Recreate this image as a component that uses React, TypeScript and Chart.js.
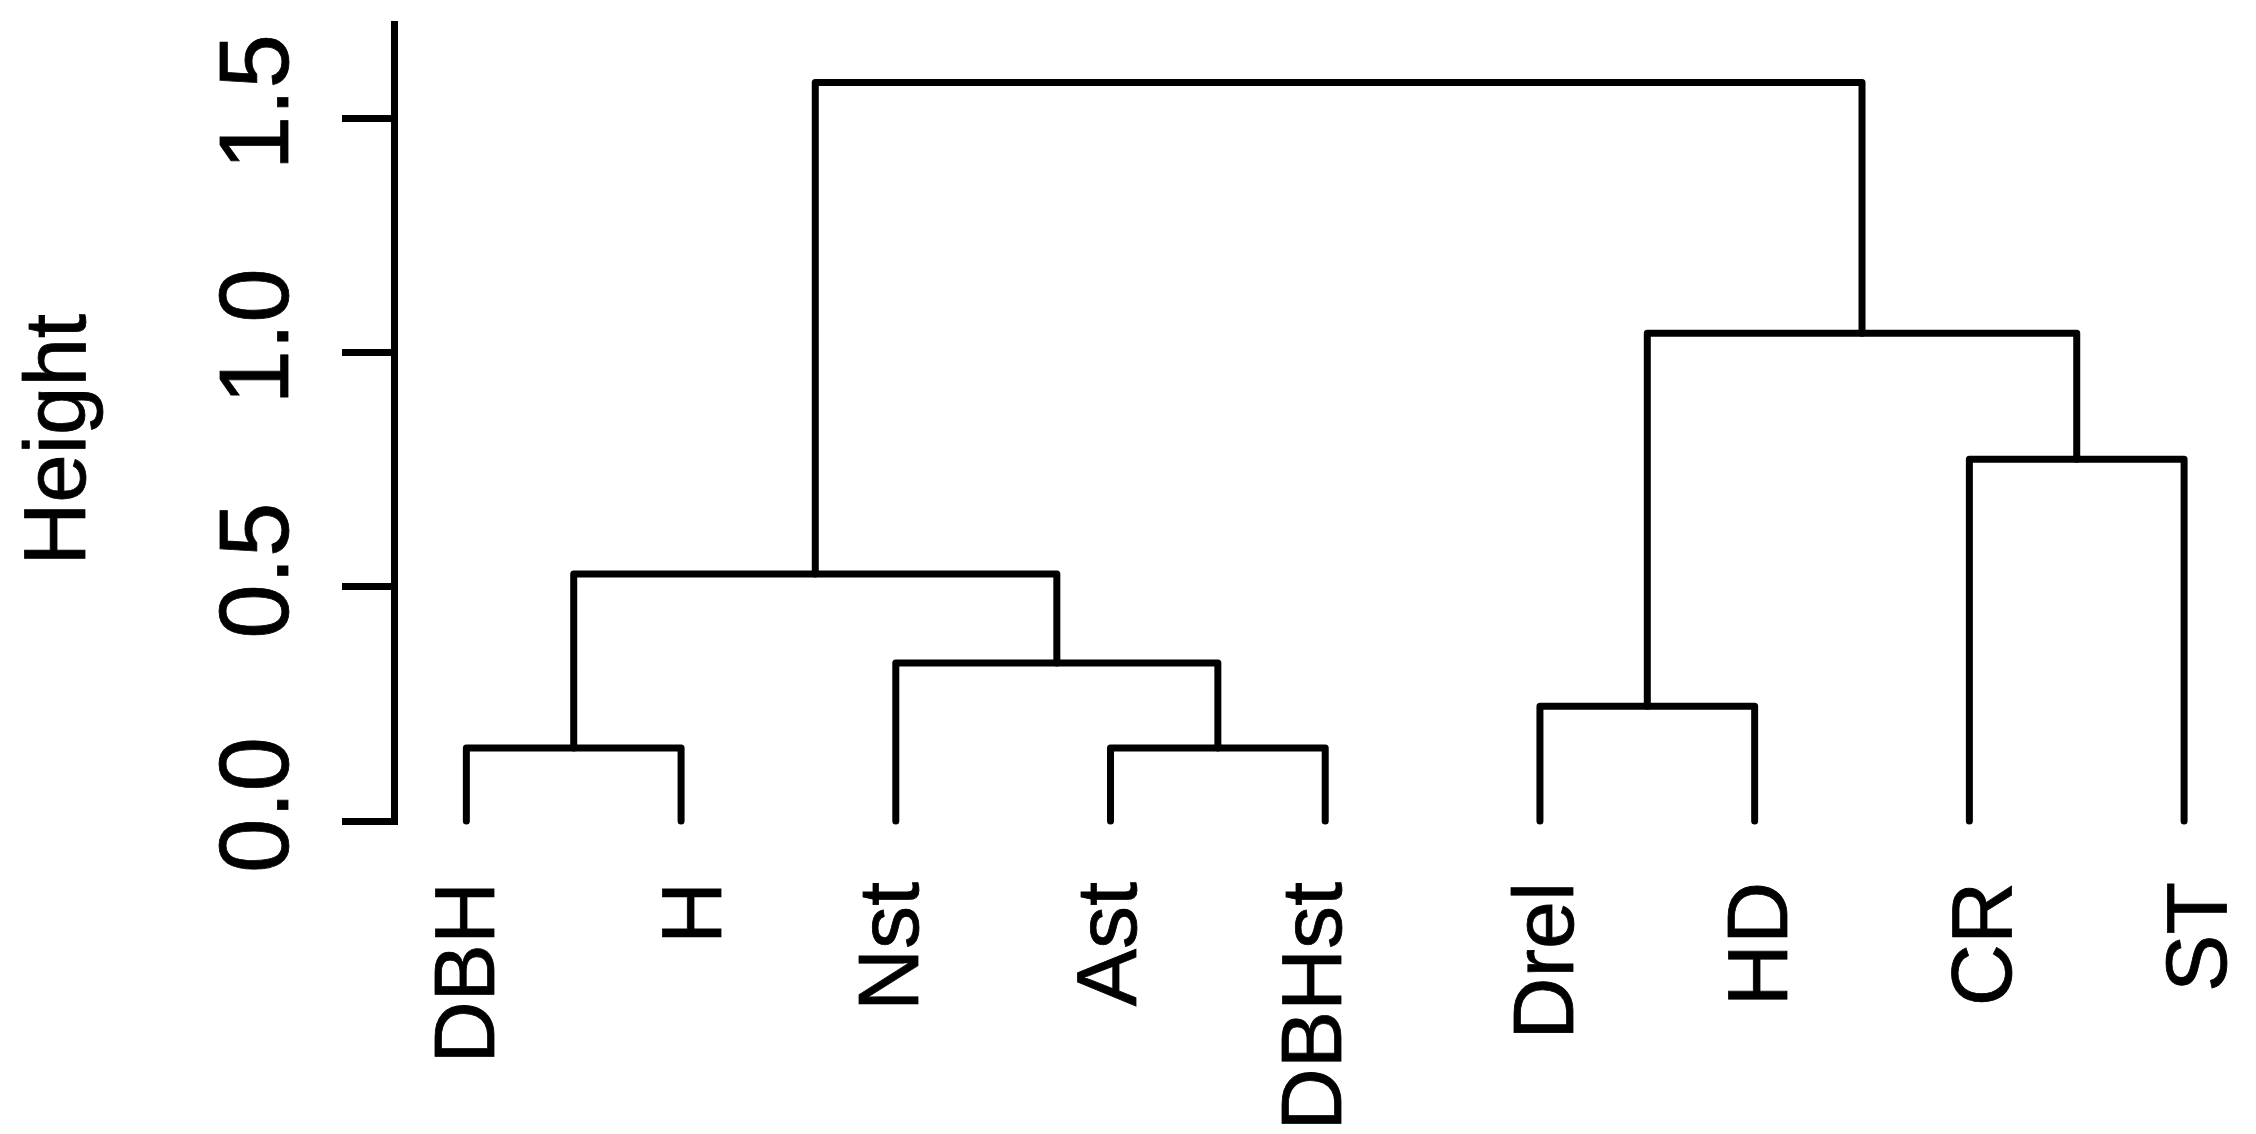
import { useEffect, useRef } from 'react';
import { Chart, registerables } from 'chart.js';

Chart.register(...registerables);

// ---- data ----
const leafLabels = ['DBH', 'H', 'Nst', 'Ast', 'DBHst', 'Drel', 'HD', 'CR', 'ST'];
// hclust-style merge steps: negative = leaf (1-based position in leafLabels), positive = earlier step
const mergeLeft = [-1, -4, -3, 1, -6, -8, 5, 4];
const mergeRight = [-2, -5, 2, 3, -7, -9, 6, 7];
const mergeHeights = [0.156, 0.156, 0.337, 0.527, 0.245, 0.772, 1.041, 1.576];
const yTickValues = [0, 0.5, 1.0, 1.5];
const yTickLabels = ['0.0', '0.5', '1.0', '1.5'];
const yAxisTitle = 'Height';

// ---- style / layout constants ----
const FONT = '"Liberation Sans", Arial, Helvetica, sans-serif';
const LINE_W = 7;
// small horizontal nudges (px) of the leaf labels, as placed in the original figure
const leafLabelNudge = [-3, 9, -9, -6, -15, 2, 1, 11, 11];

function buildSegments() {
  const nodeX: number[] = [];
  const nodeH: number[] = [];
  const pos = (ref: number) =>
    ref < 0 ? { x: -ref, h: 0 } : { x: nodeX[ref - 1], h: nodeH[ref - 1] };
  const segs: { x: number; y: number }[][] = [];
  for (let i = 0; i < mergeHeights.length; i++) {
    const a = pos(mergeLeft[i]);
    const b = pos(mergeRight[i]);
    const h = mergeHeights[i];
    segs.push([
      { x: a.x, y: a.h },
      { x: a.x, y: h },
      { x: b.x, y: h },
      { x: b.x, y: b.h },
    ]);
    nodeX.push((a.x + b.x) / 2);
    nodeH.push(h);
  }
  return segs;
}

const labelPlugin = {
  id: 'dendroLabels',
  afterDraw(chart: any) {
    const ctx = chart.ctx as CanvasRenderingContext2D;
    const xs = chart.scales.x;
    const ys = chart.scales.y;
    const area = chart.chartArea;
    ctx.save();
    ctx.fillStyle = '#000';
    ctx.strokeStyle = '#000';
    ctx.lineWidth = 0.8;
    ctx.textBaseline = 'alphabetic';

    const put = (text: string, x: number, y: number, align: CanvasTextAlign) => {
      ctx.save();
      ctx.translate(x, y);
      ctx.rotate(-Math.PI / 2);
      ctx.textAlign = align;
      ctx.fillText(text, 0, 0);
      ctx.strokeText(text, 0, 0);
      ctx.restore();
    };

    // leaf labels (perpendicular)
    ctx.font = `86px ${FONT}`;
    leafLabels.forEach((lab, i) => {
      const px = xs.getPixelForValue(i + 1) + (leafLabelNudge[i] || 0);
      const py = ys.getPixelForValue(0) + 61;
      put(lab, px + 31, py, 'right');
    });

    // y tick labels (parallel to axis)
    ctx.font = `98px ${FONT}`;
    yTickValues.forEach((v, i) => {
      put(yTickLabels[i], area.left - 106, ys.getPixelForValue(v) - 16, 'center');
    });

    // y axis title
    ctx.font = `87px ${FONT}`;
    put(yAxisTitle, area.left - 309, (area.top + area.bottom) / 2 + 17, 'center');

    ctx.restore();
  },
};

export default function App() {
  const ref = useRef<HTMLCanvasElement | null>(null);
  useEffect(() => {
    if (!ref.current) return;
    const segs = buildSegments();
    const chart = new Chart(ref.current, {
      type: 'scatter',
      data: {
        datasets: segs.map((s) => ({
          data: s,
          showLine: true,
          borderColor: '#000',
          backgroundColor: '#000',
          borderWidth: LINE_W,
          pointRadius: 0,
          pointHoverRadius: 0,
          fill: false,
          tension: 0,
          borderCapStyle: 'round',
          borderJoinStyle: 'round',
          clip: false,
        })) as any,
      },
      options: {
        animation: false,
        responsive: false,
        devicePixelRatio: 1,
        events: [],
        layout: { padding: { left: 342, top: 24.5, right: 3.2, bottom: 313 } },
        plugins: { legend: { display: false }, tooltip: { enabled: false } },
        scales: {
          x: { type: 'linear', min: 0.663, max: 9.32, display: false },
          y: {
            type: 'linear',
            min: 0,
            max: 1.7,
            position: 'left',
            afterBuildTicks: (s: any) => {
              s.ticks = yTickValues.map((v) => ({ value: v }));
            },
            grid: {
              drawOnChartArea: false,
              drawTicks: true,
              tickLength: 52,
              lineWidth: LINE_W,
              color: '#000',
            },
            border: { display: true, color: '#000', width: LINE_W },
            ticks: { display: false },
          },
        },
      } as any,
      plugins: [labelPlugin],
    });
    return () => chart.destroy();
  }, []);
  return (
    <div style={{ position: 'fixed', left: 0, top: 0, width: 2256, height: 1134, background: '#fff' }}>
      <canvas ref={ref} width={2256} height={1134} style={{ width: 2256, height: 1134, display: 'block' }} />
    </div>
  );
}
